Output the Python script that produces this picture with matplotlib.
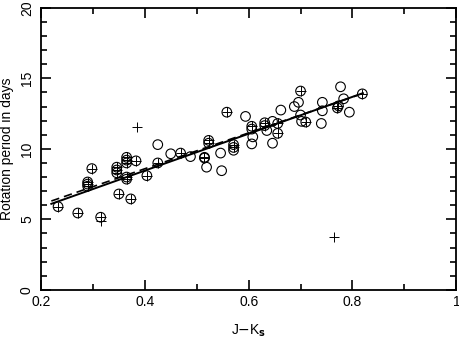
import matplotlib.pyplot as plt
from matplotlib.ticker import MultipleLocator

plt.rcParams['font.family'] = ['Liberation Sans', 'DejaVu Sans']

# circled-plus points (J-Ks, period)
cp_x = [0.233, 0.271, 0.315, 0.29, 0.29, 0.29, 0.298, 0.35, 0.373, 0.346, 0.346, 0.346,
        0.365, 0.365, 0.365, 0.383, 0.365, 0.365, 0.404, 0.425, 0.469, 0.515, 0.515,
        0.523, 0.523, 0.558, 0.571, 0.571, 0.606, 0.631, 0.631, 0.656, 0.656, 0.7,
        0.71, 0.773, 0.771, 0.819]
cp_y = [5.9, 5.45, 5.15, 7.65, 7.5, 7.35, 8.6, 6.8, 6.45, 8.7, 8.5, 8.3,
        9.4, 9.2, 9.0, 9.15, 8.0, 7.85, 8.1, 9.0, 9.7, 9.4, 9.35,
        10.6, 10.4, 12.6, 10.3, 10.1, 11.6, 11.85, 11.65, 11.8, 11.1, 14.1,
        11.9, 13.05, 12.9, 13.9]

# open circles
oc_x = [0.425, 0.45, 0.488, 0.519, 0.546, 0.548, 0.571, 0.594, 0.606, 0.608, 0.606,
        0.635, 0.646, 0.646, 0.662, 0.688, 0.696, 0.7, 0.702, 0.74, 0.742, 0.742,
        0.777, 0.783, 0.794]
oc_y = [10.3, 9.65, 9.45, 8.7, 9.7, 8.45, 9.9, 12.3, 11.4, 10.85, 10.35,
        11.3, 11.95, 10.4, 12.75, 13.0, 13.3, 12.4, 11.95, 11.8, 12.7, 13.3,
        14.4, 13.55, 12.6]

# plus-only points
p_x = [0.385, 0.315, 0.765]
p_y = [11.55, 4.85, 3.75]

# fits
fit_x = [0.22, 0.82]
fit_y = [6.1, 13.95]
fit2_x = [0.22, 0.81]
fit2_y = [6.3, 13.8]

fig = plt.figure(figsize=(4.6, 3.41), dpi=100)
ax = fig.add_axes([0.089, 0.150, 0.903, 0.827])

ax.plot(fit_x, fit_y, color='black', lw=1.4)
ax.plot(fit2_x, fit2_y, color='black', lw=1.2, ls=(0, (5, 3)))

ax.scatter(oc_x, oc_y, s=48, facecolors='none', edgecolors='black', linewidths=0.8)
ax.scatter(cp_x, cp_y, s=48, facecolors='none', edgecolors='black', linewidths=0.8)
ax.scatter(cp_x, cp_y, s=48, marker='+', color='black', linewidths=0.7)
ax.scatter(p_x, p_y, s=45, marker='+', color='black', linewidths=0.7)

ax.set_xlim(0.2, 1.0)
ax.set_ylim(0, 20)
ax.xaxis.set_major_locator(MultipleLocator(0.2))
ax.xaxis.set_minor_locator(MultipleLocator(0.1))
ax.yaxis.set_major_locator(MultipleLocator(5))
ax.yaxis.set_minor_locator(MultipleLocator(1))
ax.set_xticks([0.2, 0.4, 0.6, 0.8, 1.0])
ax.set_xticklabels(['0.2', '0.4', '0.6', '0.8', '1'])
ax.tick_params(which='both', direction='in', top=True, right=True, width=1.2, labelsize=10)
ax.tick_params(which='major', length=7)
ax.tick_params(which='minor', length=4)
ax.tick_params(axis='y', which='both', pad=5)
for lab in ax.get_yticklabels():
    lab.set_rotation(90)
    lab.set_va('center')
for sp in ax.spines.values():
    sp.set_linewidth(1.3)

ax.set_xlabel('J$-$K$_\\mathbf{s}$', fontsize=10, labelpad=10)
ax.set_ylabel('Rotation period in days', fontsize=10, labelpad=4)

fig.savefig('out.png', dpi=100)
